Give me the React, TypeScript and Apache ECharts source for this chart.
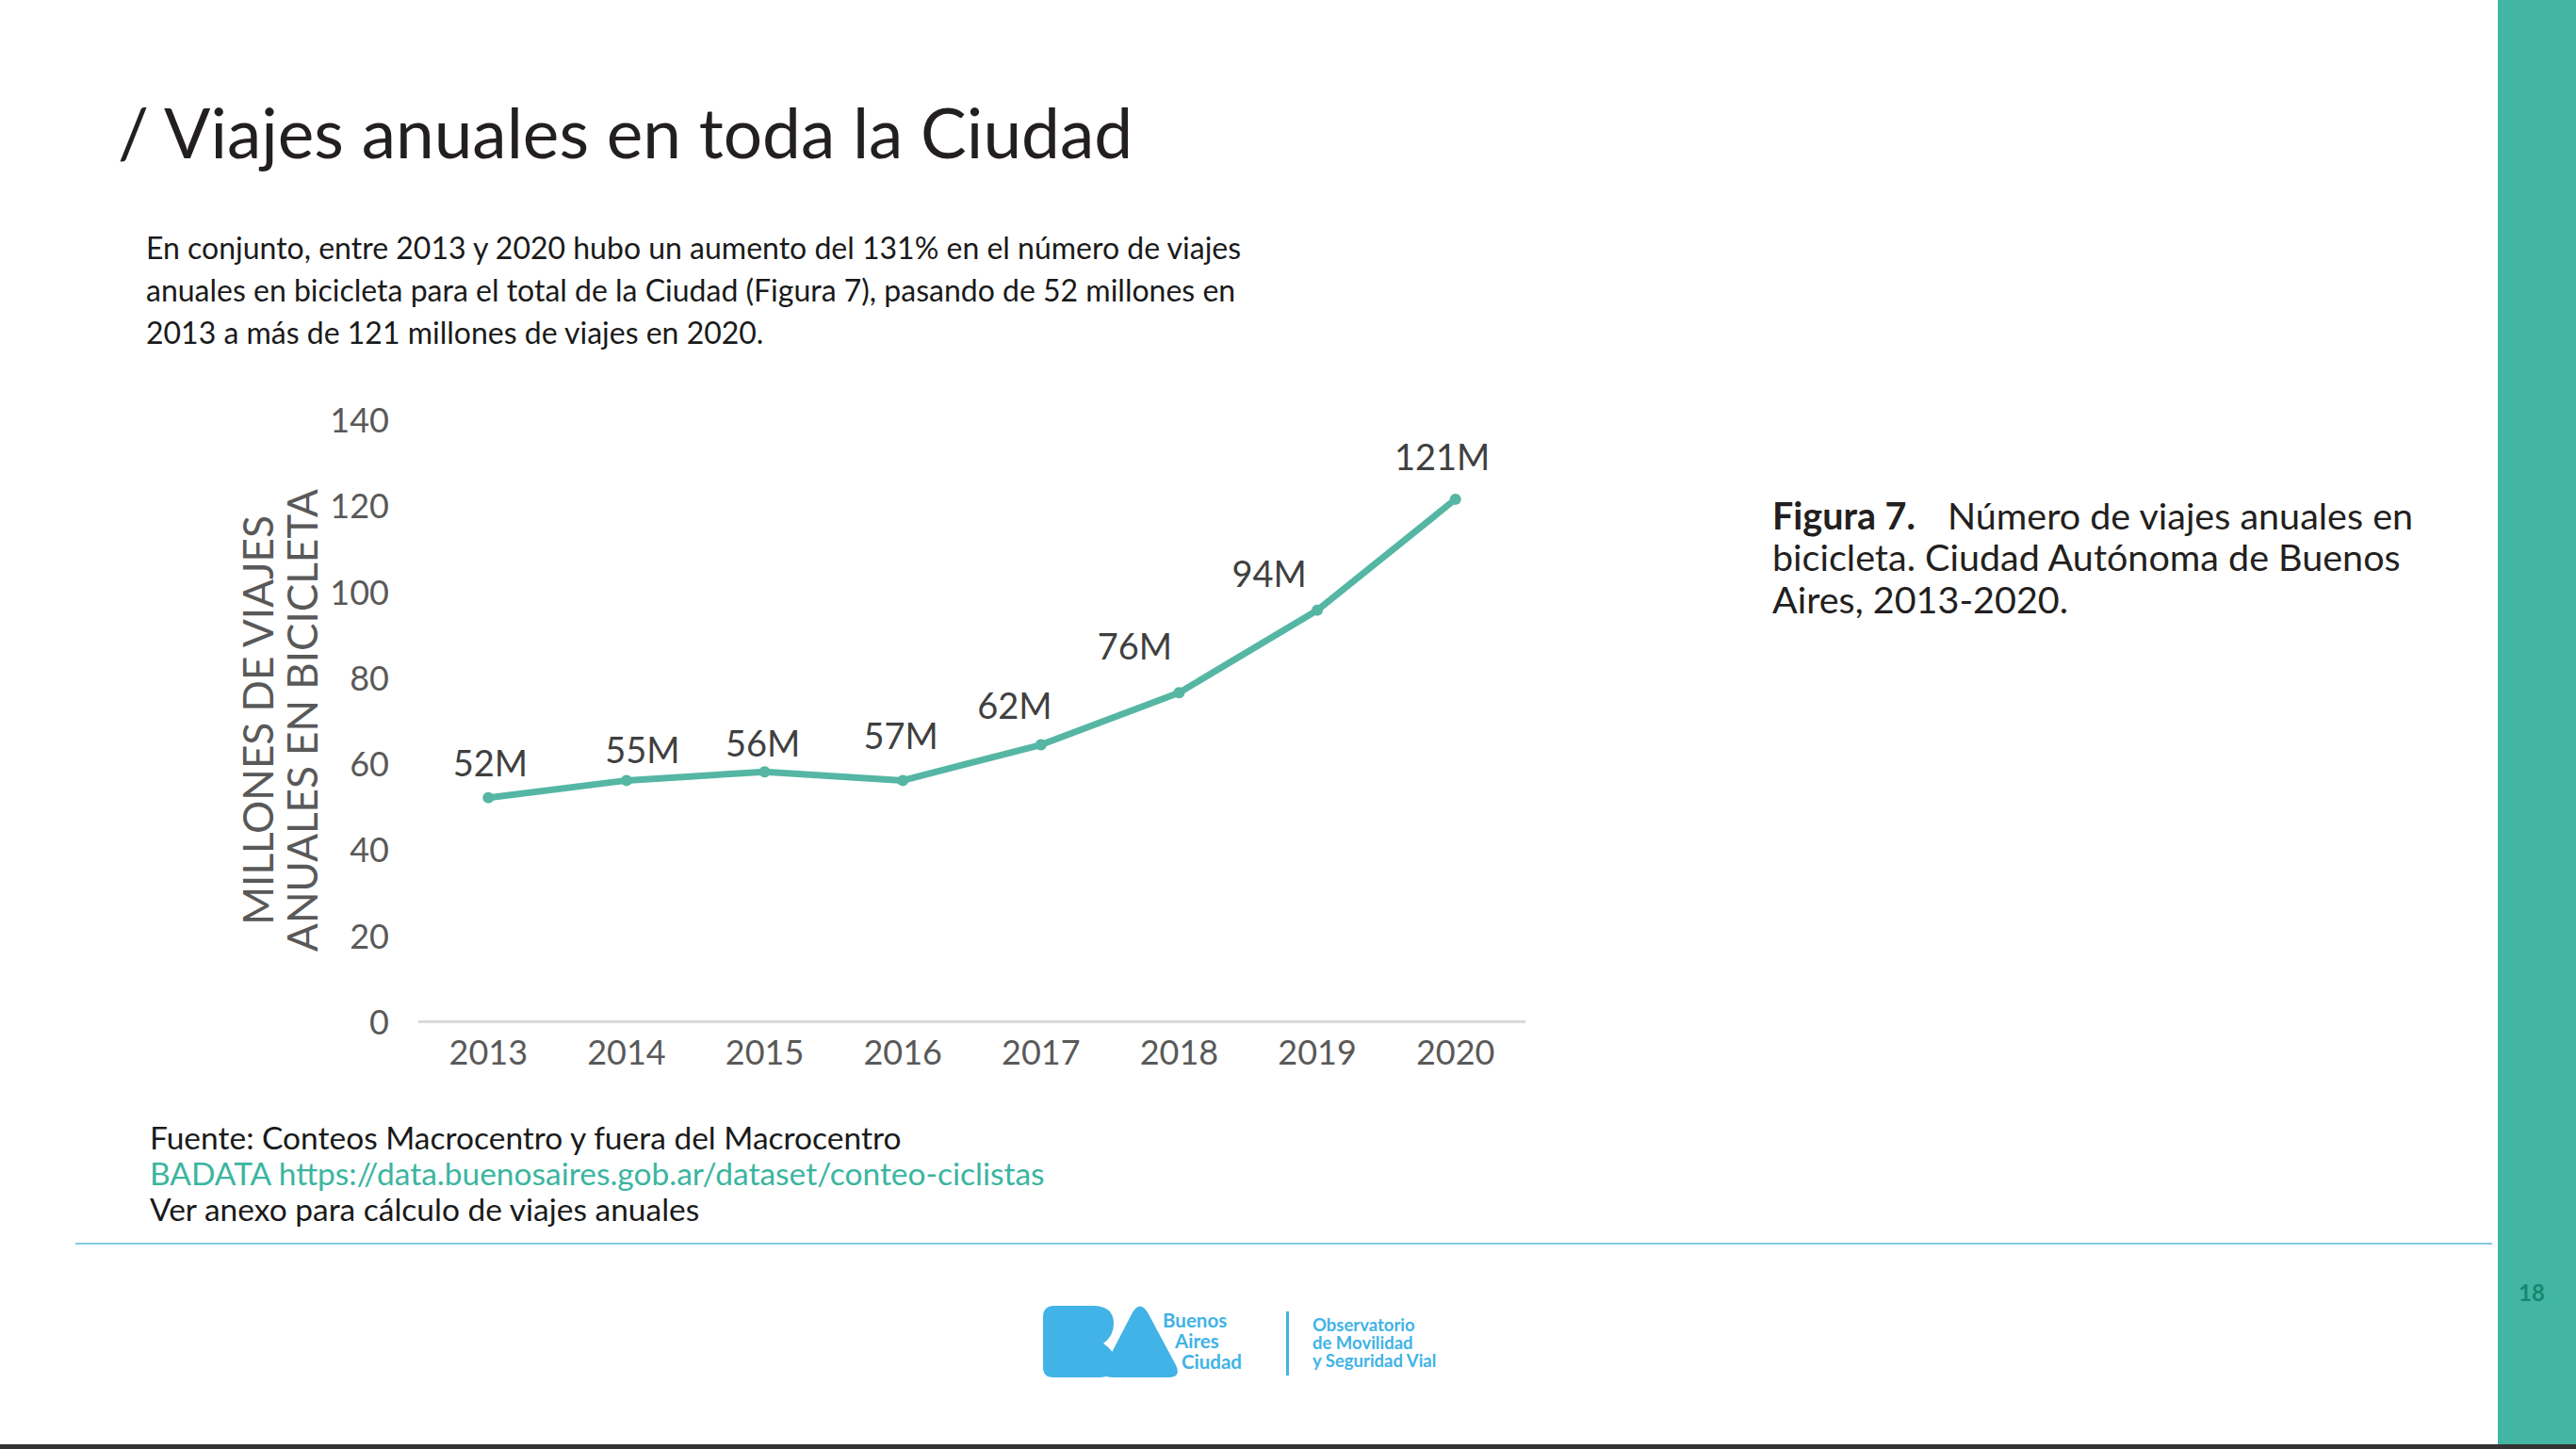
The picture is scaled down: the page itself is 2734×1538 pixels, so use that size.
import React, { useEffect, useRef } from "react";
import * as echarts from "echarts";

const years = ["2013", "2014", "2015", "2016", "2017", "2018", "2019", "2020"];
const tripValues = [52, 56, 58, 56, 64.3, 76.4, 95.6, 121.4];
const tripLabels = ["52M", "55M", "56M", "57M", "62M", "76M", "94M", "121M"];
const yTicks = { min: 0, max: 140, interval: 20 };
// label nudges (px) to follow the reference placement of the value labels
const labelNudge = [[2, 5], [17, 10], [-2, 12], [-2, -5], [-28, 0], [-47, -7], [-51, 3], [-14, -3]];

const titleText = "/ Viajes anuales en toda la Ciudad";
const paragraphLines = [
  "En conjunto, entre 2013 y 2020 hubo un aumento del 131% en el número de viajes",
  "anuales en bicicleta para el total de la Ciudad (Figura 7), pasando de 52 millones en",
  "2013 a más de 121 millones de viajes en 2020.",
];
const captionBold = "Figura 7.";
const captionLines = [
  "Número de viajes anuales en",
  "bicicleta. Ciudad Autónoma de Buenos",
  "Aires, 2013-2020.",
];
const sourceLines = [
  "Fuente: Conteos Macrocentro y fuera del Macrocentro",
  "BADATA https://data.buenosaires.gob.ar/dataset/conteo-ciclistas",
  "Ver anexo para cálculo de viajes anuales",
];
const logoWords = ["Buenos", "Aires", "Ciudad"];
const observatorioLines = ["Observatorio", "de Movilidad", "y Seguridad Vial"];
const pageNumber = "18";

const FONT = "Lato, 'Open Sans', sans-serif";

let registered = false;
function registerShapes() {
  if (registered) return;
  registered = true;
  echarts.graphic.registerShape(
    "logoB",
    echarts.graphic.extendPath(
      "M1107 1398 Q1107 1386 1119 1386 L1160 1386 Q1182 1386 1182 1405 Q1182 1418 1171 1426 Q1184 1434 1184 1447 Q1184 1462 1166 1462 L1118 1462 Q1107 1462 1107 1451 Z",
      {}
    )
  );
  echarts.graphic.registerShape(
    "logoA",
    echarts.graphic.extendPath(
      "M1202 1393 Q1210 1380 1218 1393 L1248 1449 Q1254 1462 1240 1462 L1181 1462 Q1167 1462 1173 1449 Z",
      {}
    )
  );
}

export default function App() {
  const ref = useRef<HTMLDivElement>(null);

  useEffect(() => {
    document.body.style.margin = "0";
    registerShapes();
    const chart = echarts.init(ref.current!, null, { renderer: "svg" });

    const texts: any[] = [];
    const addText = (
      text: string,
      x: number,
      y: number,
      size: number,
      fill: string,
      weight: any = "normal",
      align: string = "left"
    ) => {
      texts.push({
        type: "text",
        x,
        y,
        silent: true,
        style: {
          text,
          fill,
          fontSize: size,
          fontFamily: FONT,
          fontWeight: weight,
          textAlign: align,
          textVerticalAlign: "middle",
        },
      });
    };

    addText(titleText, 125, 140, 73, "#231f20", "normal");
    paragraphLines.forEach((l, i) => addText(l, 155, 262 + i * 45, 32, "#1a1a1a"));

    addText(captionBold, 1881, 546, 39.5, "#231f20", "bold");
    captionLines.forEach((l, i) => addText(l, i === 0 ? 2067 : 1881, 546 + i * 44.5, 39.5, "#231f20"));

    sourceLines.forEach((l, i) => addText(l, 159, 1207 + i * 38, 33.5, i === 1 ? "#3bb5a0" : "#1a1a1a"));

    const logoColor = "#41b3e6";
    const logoX = [1234, 1247, 1254];
    const logoY = [1401, 1423, 1445];
    logoWords.forEach((w, i) => addText(w, logoX[i], logoY[i], 20.5, logoColor, "bold"));
    observatorioLines.forEach((w, i) => addText(w, 1393, 1406 + i * 19, 18.5, logoColor, "bold"));
    addText(pageNumber, 2687, 1371, 24, "#17876f", "bold", "center");

    chart.setOption({
      animation: false,
      backgroundColor: "#ffffff",
      grid: { left: 445, right: 1116, top: 445, bottom: 454, containLabel: false },
      xAxis: {
        type: "category",
        data: years,
        boundaryGap: true,
        axisLine: { show: true, lineStyle: { color: "#d9d9d9", width: 3 } },
        axisTick: { show: false },
        axisLabel: { color: "#595959", fontSize: 36, fontFamily: FONT, margin: 14 },
      },
      yAxis: {
        type: "value",
        min: yTicks.min,
        max: yTicks.max,
        interval: yTicks.interval,
        axisLine: { show: false },
        axisTick: { show: false },
        splitLine: { show: false },
        axisLabel: { color: "#595959", fontSize: 36, fontFamily: FONT, margin: 32 },
        name: "MILLONES DE VIAJES\nANUALES EN BICICLETA",
        nameLocation: "middle",
        nameGap: 102,
        nameTextStyle: { color: "#595959", fontSize: 44, fontFamily: FONT, lineHeight: 47 },
      },
      series: [
        {
          type: "line",
          data: tripValues.map((v, i) => ({
            value: v,
            label: { offset: labelNudge[i] },
          })),
          symbol: "circle",
          symbolSize: 12,
          lineStyle: { color: "#55b6a4", width: 7 },
          itemStyle: { color: "#55b6a4" },
          label: {
            show: true,
            position: "top",
            distance: 18,
            formatter: (p: any) => tripLabels[p.dataIndex],
            color: "#404040",
            fontSize: 38,
            fontFamily: FONT,
          },
        },
      ],
      graphic: [
        { type: "rect", silent: true, shape: { x: 2651, y: 0, width: 83, height: 1533 }, style: { fill: "#42b5a3" } },
        { type: "rect", silent: true, shape: { x: 0, y: 1533, width: 2734, height: 5 }, style: { fill: "#333333" } },
        { type: "rect", silent: true, shape: { x: 80, y: 1319, width: 2565, height: 2 }, style: { fill: "#84c9e6" } },
        { type: "rect", silent: true, shape: { x: 1365, y: 1392, width: 3, height: 68 }, style: { fill: logoColor } },
        { type: "logoB", x: 0, y: 0, silent: true, style: { fill: logoColor } },
        { type: "logoA", x: 0, y: 0, silent: true, style: { fill: logoColor } },
        ...texts,
      ],
    });

    return () => chart.dispose();
  }, []);

  return <div ref={ref} style={{ width: 2734, height: 1538 }} />;
}
